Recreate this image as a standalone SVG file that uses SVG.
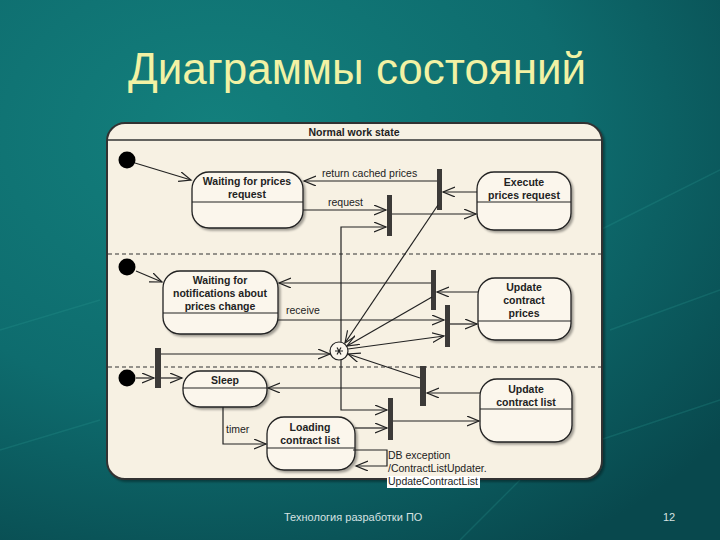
<svg xmlns="http://www.w3.org/2000/svg" width="720" height="540" viewBox="0 0 720 540">
<defs>
<radialGradient id="bg" cx="0.3" cy="0.25" r="0.9">
<stop offset="0" stop-color="#13807d"/>
<stop offset="0.55" stop-color="#0e6c6e"/>
<stop offset="1" stop-color="#08484d"/>
</radialGradient>
<filter id="sh" x="-10%" y="-10%" width="130%" height="130%">
<feDropShadow dx="2" dy="2" stdDeviation="1.2" flood-color="#000" flood-opacity="0.35"/>
</filter>
<marker id="ar" markerUnits="userSpaceOnUse" markerWidth="14" markerHeight="12" refX="12" refY="5" orient="auto">
<path d="M0,0 L12,5 L0,10" fill="none" stroke="#222" stroke-width="1.2"/>
</marker>
<style>
.t{font-family:"Liberation Sans",Arial,sans-serif;font-size:10.5px;fill:#222}
.b{font-family:"Liberation Sans",Arial,sans-serif;font-size:10.5px;font-weight:bold;fill:#222;text-anchor:middle}
.st{fill:#fbf6ec;stroke:#222;stroke-width:1.3;filter:url(#sh)}
.dv{stroke:#222;stroke-width:1.2}
.bar{fill:#3c3a38}
.c{fill:none;stroke:#222;stroke-width:1.2;marker-end:url(#ar)}
.dash{stroke:#333;stroke-width:1.2;stroke-dasharray:4,3}
</style>
</defs>
<rect width="720" height="540" fill="url(#bg)"/>
<g stroke="#2a9a95" stroke-opacity="0.25" stroke-width="1.5" fill="none">
<path d="M600,230 L720,170"/><path d="M610,330 L720,290"/><path d="M600,440 L720,400"/><path d="M0,330 L100,300"/><path d="M0,450 L100,420"/><path d="M460,540 L520,480"/>
</g>
<text x="357" y="84" text-anchor="middle" font-family="Liberation Sans,Arial,sans-serif" font-size="44" fill="#f2f2a4" textLength="458" lengthAdjust="spacingAndGlyphs">Диаграммы состояний</text>
<text x="284" y="521" font-family="Liberation Sans,Arial,sans-serif" font-size="11" fill="#d6e2e2">Технология разработки ПО</text>
<text x="663" y="521" font-family="Liberation Sans,Arial,sans-serif" font-size="11" fill="#d6e2e2">12</text>

<g id="frame">
<rect x="107" y="123" width="495" height="356" rx="18" fill="#f7f1e3" stroke="#333" stroke-width="2" filter="url(#sh)"/>
<line x1="107" y1="140" x2="602" y2="140" stroke="#333" stroke-width="1.3"/>
<text class="b" x="354" y="136">Normal work state</text>
<line class="dash" x1="108" y1="254" x2="601" y2="254"/>
<line class="dash" x1="108" y1="367" x2="601" y2="367"/>
</g>

<g id="init1"><circle cx="127" cy="160" r="8.5" fill="#000"/></g>
<g id="init2"><circle cx="127" cy="267" r="8.5" fill="#000"/></g>
<g id="init3"><circle cx="127" cy="378" r="8.5" fill="#000"/></g>

<g id="waitPrices">
<rect class="st" x="192" y="172" width="111" height="56" rx="17"/>
<line class="dv" x1="192" y1="202" x2="303" y2="202"/>
<text class="b" x="247" y="185">Waiting for prices</text>
<text class="b" x="247" y="198">request</text>
</g>
<g id="execPrices">
<rect class="st" x="477" y="172" width="94" height="58" rx="17"/>
<line class="dv" x1="477" y1="202" x2="571" y2="202"/>
<text class="b" x="524" y="186">Execute</text>
<text class="b" x="524" y="199">prices request</text>
</g>
<g id="waitNotif">
<rect class="st" x="163" y="271" width="115" height="63" rx="17"/>
<line class="dv" x1="163" y1="313" x2="278" y2="313"/>
<text class="b" x="220" y="284">Waiting for</text>
<text class="b" x="220" y="297">notifications about</text>
<text class="b" x="220" y="310">prices change</text>
</g>
<g id="updPrices">
<rect class="st" x="478" y="278" width="93" height="62" rx="17"/>
<line class="dv" x1="478" y1="321" x2="571" y2="321"/>
<text class="b" x="524" y="291">Update</text>
<text class="b" x="524" y="304">contract</text>
<text class="b" x="524" y="317">prices</text>
</g>
<g id="sleep">
<rect class="st" x="183" y="371" width="84" height="36" rx="17"/>
<line class="dv" x1="183" y1="388" x2="267" y2="388"/>
<text class="b" x="225" y="384">Sleep</text>
</g>
<g id="loading">
<rect class="st" x="267" y="417" width="88" height="53" rx="17"/>
<line class="dv" x1="267" y1="448" x2="355" y2="448"/>
<text class="b" x="310" y="431">Loading</text>
<text class="b" x="310" y="444">contract list</text>
</g>
<g id="updList">
<rect class="st" x="480" y="379" width="92" height="63" rx="17"/>
<line class="dv" x1="480" y1="409" x2="572" y2="409"/>
<text class="b" x="526" y="393">Update</text>
<text class="b" x="526" y="406">contract list</text>
</g>

<g id="barA"><rect class="bar" x="437" y="169" width="5" height="41"/></g>
<g id="barB"><rect class="bar" x="387" y="195" width="5" height="41"/></g>
<g id="barC"><rect class="bar" x="431" y="270" width="5" height="40"/></g>
<g id="barD"><rect class="bar" x="445" y="305" width="5" height="42"/></g>
<g id="barE"><rect class="bar" x="155" y="348" width="6" height="40"/></g>
<g id="barF"><rect class="bar" x="420" y="366" width="6" height="40"/></g>
<g id="barG"><rect class="bar" x="388" y="398" width="5" height="42"/></g>
<g id="junction">
<circle cx="339" cy="351" r="9" fill="#fbf6ec" stroke="#222" stroke-width="1.2"/>
<path d="M335,351 H343 M337,347.5 L341,354.5 M341,347.5 L337,354.5" stroke="#222" stroke-width="1.2"/>
</g>

<g id="connectors">
<path class="c" d="M135,163 L191,180"/>
<path class="c" d="M136,271 L162,282"/>
<path class="c" d="M437,181 L304,181"/>
<path class="c" d="M477,192 L443,192"/>
<path class="c" d="M303,210 L386,210"/>
<path class="c" d="M392,214 L476,214"/>
<path class="c" d="M341,342 L341,227 L386,227"/>
<path class="c" d="M438,205 L345,343"/>
<path class="c" d="M431,283 L279,283"/>
<path class="c" d="M478,292 L437,292"/>
<path class="c" d="M278,320 L444,320"/>
<path class="c" d="M450,324 L477,324"/>
<path class="c" d="M432,297 L347,346"/>
<path class="c" d="M348,349 L444,336"/>
<path class="c" d="M161,354 L330,354"/>
<path class="c" d="M136,378 L154,378"/>
<path class="c" d="M161,378 L182,378"/>
<path class="c" d="M420,388 L268,388"/>
<path class="c" d="M480,393 L427,393"/>
<path class="c" d="M420,378 L348,354"/>
<path class="c" d="M341,360 L341,410 L387,410"/>
<path class="c" d="M223,407 L223,444 L266,444"/>
<path class="c" d="M355,428 L387,428"/>
<path class="c" d="M393,421 L479,421" stroke-width="2"/>
<path class="c" d="M353,450 L387,450 L387,466 L356,466"/>
</g>
<g id="labels">
<text class="t" x="322" y="177">return cached prices</text>
<text class="t" x="328" y="206">request</text>
<text class="t" x="286" y="314">receive</text>
<text class="t" x="226" y="433">timer</text>
<rect x="387" y="476" width="93" height="12" fill="#ffffff"/>
<text class="t" x="388" y="459">DB exception</text>
<text class="t" x="388" y="472">/ContractListUpdater.</text>
<text class="t" x="388" y="485">UpdateContractList</text>
</g>
</svg>
